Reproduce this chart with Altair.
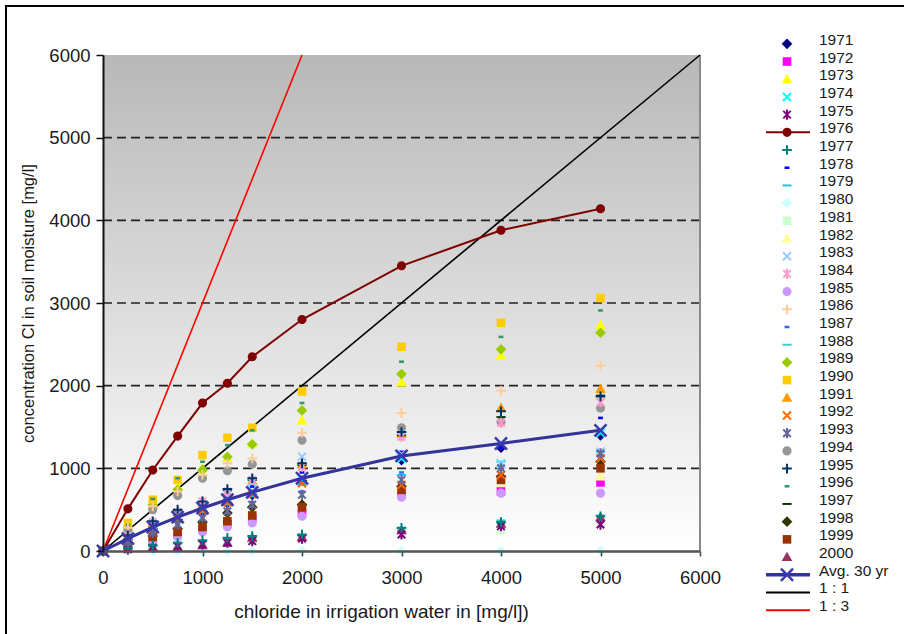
import altair as alt
import pandas as pd

# ---------------- data ----------------
X_VALUES = [0, 250, 500, 750, 1000, 1250, 1500, 2000, 3000, 4000, 5000]

Y1971 = [0, 140, 270, 380, 480, 580, 680, 850, 1100, 1250, 1400]
Y1972 = [0, 60, 130, 200, 260, 330, 390, 460, 690, 720, 830]
Y1973 = [0, 290, 560, 770, 1000, 1130, 1300, 1580, 2040, 2370, 2730]
Y1974 = [0, 150, 300, 410, 510, 620, 720, 870, 1120, 1060, 1430]
Y1975 = [0, 20, 40, 60, 80, 100, 120, 150, 200, 300, 320]
Y1976 = [0, 510, 980, 1390, 1790, 2030, 2350, 2800, 3450, 3880, 4140]
Y1977 = [0, 40, 70, 100, 130, 160, 180, 200, 280, 350, 420]
Y1978 = [0, 170, 320, 440, 560, 660, 780, 950, 1200, 1250, 1610]
Y1979 = [0, 130, 270, 370, 470, 560, 660, 800, 920, 1080, 1200]
Y1980 = [0, 0, 0, 0, 0, 0, 0, 0, 0, 0, 0]
Y1981 = [0, 20, 40, 60, 80, 100, 120, 140, 210, 250, 330]
Y1982 = [0, 100, 200, 280, 350, 430, 500, 600, 760, 830, 900]
Y1983 = [0, 160, 310, 430, 550, 680, 830, 1140, 1170, 1050, 1200]
Y1984 = [0, 180, 350, 470, 600, 720, 860, 1020, 1380, 1550, 1800]
Y1985 = [0, 50, 110, 170, 230, 290, 340, 420, 650, 700, 700]
Y1986 = [0, 280, 540, 720, 920, 1060, 1120, 1430, 1670, 1940, 2240]
Y1987 = [0, 110, 230, 330, 420, 500, 590, 720, 950, 1000, 1100]
Y1988 = [0, 30, 60, 90, 120, 150, 170, 190, 270, 370, 430]
Y1989 = [0, 280, 560, 740, 980, 1140, 1290, 1700, 2140, 2440, 2640]
Y1990 = [0, 340, 620, 860, 1160, 1370, 1490, 1930, 2470, 2760, 3060]
Y1991 = [0, 170, 340, 470, 590, 710, 850, 1050, 1420, 1730, 1960]
Y1992 = [0, 140, 280, 390, 490, 590, 690, 820, 800, 920, 1120]
Y1993 = [0, 110, 220, 320, 400, 480, 560, 680, 860, 1000, 1180]
Y1994 = [0, 250, 500, 670, 880, 970, 1050, 1340, 1490, 1560, 1730]
Y1995 = [0, 190, 360, 500, 600, 750, 880, 1060, 1440, 1690, 1870]
Y1996 = [0, 320, 630, 880, 1080, 1280, 1460, 1790, 2290, 2590, 2910]
Y1997 = [0, 180, 350, 480, 590, 730, 860, 1040, 1400, 1620, 1880]
Y1998 = [0, 90, 180, 270, 350, 460, 530, 560, 780, 900, 1080]
Y1999 = [0, 60, 170, 230, 290, 360, 430, 530, 740, 860, 1000]
Y2000 = [0, 30, 50, 50, 70, 100, 160, 170, 250, 330, 410]

AVG_30 = [0, 150, 290, 410, 520, 620, 710, 880, 1150, 1300, 1460]

LINE_11_X = [0, 6000]
LINE_11_Y = [0, 6000]
LINE_13_X = [0, 2000]
LINE_13_Y = [0, 6000]

YEARS = [str(y) for y in range(1971, 2001)]
SERIES = [Y1971, Y1972, Y1973, Y1974, Y1975, Y1976, Y1977, Y1978, Y1979, Y1980,
          Y1981, Y1982, Y1983, Y1984, Y1985, Y1986, Y1987, Y1988, Y1989, Y1990,
          Y1991, Y1992, Y1993, Y1994, Y1995, Y1996, Y1997, Y1998, Y1999, Y2000]

AXIS_TICKS = [0, 1000, 2000, 3000, 4000, 5000, 6000]
GRID_LEVELS = [1000, 2000, 3000, 4000, 5000]

AVG_LABEL = "Avg. 30 yr"
L11_LABEL = "1 : 1"
L13_LABEL = "1 : 3"

# ---------------- styles ----------------
COLORS = ["#000080", "#FF00FF", "#FFFF00", "#00FFFF", "#800080", "#800000",
          "#008080", "#0000FF", "#00CCFF", "#CCFFFF", "#CCFFCC", "#FFFF99",
          "#99CCFF", "#FF99CC", "#CC99FF", "#FFCC99", "#3366FF", "#33CCCC",
          "#99CC00", "#FFCC00", "#FF9900", "#FF6600", "#666699", "#969696",
          "#003366", "#339966", "#003300", "#333300", "#993300", "#993366"]
KIND_CYCLE = ["diamond", "square", "triangle", "x", "star", "circle", "plus",
              "dash_s", "dash_l"]
KINDS = [KIND_CYCLE[i % 9] for i in range(30)]
PATHS = {
    "diamond": "M0,-1L1,0L0,1L-1,0Z",
    "square": "M-0.8,-0.8H0.8V0.8H-0.8Z",
    "triangle": "M0,-1L1,0.75H-1Z",
    "circle": "M-0.85,0A0.85,0.85 0 1,0 0.85,0A0.85,0.85 0 1,0 -0.85,0Z",
    "dash_s": "M-0.45,-0.24H0.45V0.24H-0.45Z",
    "dash_l": "M-0.85,-0.18H0.85V0.18H-0.85Z",
    "x": "M-0.75,-0.75L0.75,0.75M0.75,-0.75L-0.75,0.75",
    "star": "M-0.7,-0.7L0.7,0.7M0.7,-0.7L-0.7,0.7M0,-0.95V0.95",
    "plus": "M-0.9,0H0.9M0,-0.9V0.9",
}
STROKED = {"x", "star", "plus"}
AVG_COLOR = "#33339A"
FONT = "Liberation Sans"
TEXT_COLOR = "#1a1a1a"
PT_SIZE = 115

W, H = 597, 496

# ---------------- tables ----------------
rows = []
for label, vals, kind in zip(YEARS, SERIES, KINDS):
    for xv, yv in zip(X_VALUES, vals):
        rows.append({"s": label, "x": xv, "y": yv, "k": "stroked" if kind in STROKED else "filled"})
points = pd.DataFrame(rows)
line76 = pd.DataFrame({"x": X_VALUES, "y": Y1976})
avg = pd.DataFrame({"x": X_VALUES, "y": AVG_30})
ref_lines = pd.DataFrame(
    [{"s": L11_LABEL, "x": a, "y": b, "o": i} for i, (a, b) in enumerate(zip(LINE_11_X, LINE_11_Y))]
    + [{"s": L13_LABEL, "x": a, "y": b, "o": i} for i, (a, b) in enumerate(zip(LINE_13_X, LINE_13_Y))]
)
grid = pd.DataFrame({"y": GRID_LEVELS})
bg = pd.DataFrame({"x": [AXIS_TICKS[0]], "x2": [AXIS_TICKS[-1]], "y": [AXIS_TICKS[0]], "y2": [AXIS_TICKS[-1]]})
right_edge = pd.DataFrame({"x": [AXIS_TICKS[-1]]})

LABELS = YEARS + [AVG_LABEL, L11_LABEL, L13_LABEL]
leg_rows = []
for label, kind in zip(YEARS, KINDS):
    leg_rows.append({"label": label, "k": "stroked" if kind in STROKED else "filled",
                     "line": label == "1976", "w": 2})
leg_rows.append({"label": AVG_LABEL, "k": "avg", "line": True, "w": 3.5})
leg_rows.append({"label": L11_LABEL, "k": "none", "line": True, "w": 2})
leg_rows.append({"label": L13_LABEL, "k": "none", "line": True, "w": 2})
legend = pd.DataFrame(leg_rows)

# ---------------- scales / encodings ----------------
xs = alt.Scale(domain=[0, 6000], nice=False, zero=False)
ys = alt.Scale(domain=[0, 6000], nice=False, zero=False)
color_scale = alt.Scale(domain=LABELS, range=COLORS + [AVG_COLOR, "#000000", "#FF0000"])
shape_scale = alt.Scale(domain=YEARS + [AVG_LABEL], range=[PATHS[k] for k in KINDS] + [PATHS["x"]])

x_axis = alt.Axis(values=AXIS_TICKS, format="d", title="chloride in irrigation water in [mg/l])",
                  grid=False, labelFlush=False, domainColor="#555555", domainWidth=2.5,
                  tickColor="#444444", tickSize=5, tickWidth=1.5, labelPadding=12,
                  labelFontSize=18.5, labelFont=FONT, labelColor=TEXT_COLOR,
                  titleFont=FONT, titleFontSize=19, titleFontWeight="normal",
                  titleColor=TEXT_COLOR, titleX=278, titleY=60, titleBaseline="middle",
                  zindex=1)
y_axis = alt.Axis(values=AXIS_TICKS, format="d", title="concentration Cl in soil moisture [mg/l]",
                  grid=False, labelFlush=False, domainColor="#111111", domainWidth=2,
                  tickColor="#111111", tickSize=7, tickWidth=1.5, labelPadding=6,
                  labelFontSize=18.5, labelFont=FONT, labelColor=TEXT_COLOR,
                  titleFont=FONT, titleFontSize=16.5, titleFontWeight="normal",
                  titleColor=TEXT_COLOR, titleX=-75, titleY=H / 2, titleAngle=-90,
                  titleBaseline="middle", titleAlign="center", zindex=1)


def ex():
    return alt.X("x:Q", scale=xs, axis=x_axis)


def ey():
    return alt.Y("y:Q", scale=ys, axis=y_axis)


background = alt.Chart(bg).mark_rect(
    fill=alt.Gradient(gradient="linear", x1=0, x2=0, y1=0, y2=1,
                      stops=[alt.GradientStop(offset=0, color="#b8b8b8"),
                             alt.GradientStop(offset=1, color="#ffffff")])
).encode(x=ex(), x2="x2:Q", y=ey(), y2="y2:Q")

grid_rules = alt.Chart(grid).mark_rule(color="#222222", strokeWidth=1.6, strokeDash=[9, 5]).encode(
    y=ey(), x=alt.value(0), x2=alt.value(W))

edge = alt.Chart(right_edge).mark_rule(color="#8a8a8a", strokeWidth=2).encode(
    x=ex(), y=alt.value(0), y2=alt.value(H))

refs = alt.Chart(ref_lines).mark_line(strokeWidth=1.6).encode(
    x=ex(), y=ey(), order="o:Q",
    color=alt.Color("s:N", scale=color_scale, legend=None))

l76 = alt.Chart(line76).mark_line(color="#800000", strokeWidth=2).encode(x=ex(), y=ey())

filled_pts = alt.Chart(points).transform_filter(alt.datum.k == "filled").mark_point(
    filled=True, size=PT_SIZE, opacity=1).encode(
    x=ex(), y=ey(),
    color=alt.Color("s:N", scale=color_scale, legend=None),
    shape=alt.Shape("s:N", scale=shape_scale, legend=None))

stroked_pts = alt.Chart(points).transform_filter(alt.datum.k == "stroked").mark_point(
    filled=False, size=PT_SIZE, opacity=1, strokeWidth=2).encode(
    x=ex(), y=ey(),
    color=alt.Color("s:N", scale=color_scale, legend=None),
    shape=alt.Shape("s:N", scale=shape_scale, legend=None))

avg_line = alt.Chart(avg).mark_line(color=AVG_COLOR, strokeWidth=3).encode(x=ex(), y=ey())
avg_pts = alt.Chart(avg).mark_point(shape=PATHS["x"], size=260, filled=False, opacity=1,
                                    strokeWidth=2.5, color="#3a3aae").encode(x=ex(), y=ey())

plot = alt.layer(background, grid_rules, edge, refs, l76, filled_pts, stroked_pts,
                 avg_line, avg_pts)

# ---------------- legend ----------------
ly = alt.Y("label:N", scale=alt.Scale(type="point", domain=LABELS, range=[-20, 564]), axis=None)
LEG_X = 684

leg_lines = alt.Chart(legend).transform_filter(alt.datum.line).mark_rule().encode(
    y=ly, x=alt.value(LEG_X - 21), x2=alt.value(LEG_X + 23),
    color=alt.Color("label:N", scale=color_scale, legend=None),
    strokeWidth=alt.StrokeWidth("w:Q", scale=None))
leg_filled = alt.Chart(legend).transform_filter(alt.datum.k == "filled").mark_point(
    filled=True, size=PT_SIZE, opacity=1).encode(
    y=ly, x=alt.value(LEG_X),
    color=alt.Color("label:N", scale=color_scale, legend=None),
    shape=alt.Shape("label:N", scale=shape_scale, legend=None))
leg_stroked = alt.Chart(legend).transform_filter(alt.datum.k == "stroked").mark_point(
    filled=False, size=PT_SIZE, opacity=1, strokeWidth=2).encode(
    y=ly, x=alt.value(LEG_X),
    color=alt.Color("label:N", scale=color_scale, legend=None),
    shape=alt.Shape("label:N", scale=shape_scale, legend=None))
leg_avg = alt.Chart(legend).transform_filter(alt.datum.k == "avg").mark_point(
    shape=PATHS["x"], size=260, filled=False, opacity=1, strokeWidth=2.5,
    color="#3a3aae").encode(y=ly, x=alt.value(LEG_X))
leg_text = alt.Chart(legend).mark_text(align="left", baseline="middle", dy=-4,
                                       font=FONT, fontSize=15.5, color=TEXT_COLOR).encode(
    y=ly, x=alt.value(LEG_X + 32), text="label:N")

frame = alt.Chart(pd.DataFrame({"a": [0]})).mark_rect(
    fillOpacity=0, stroke="#000000", strokeWidth=2).encode(
    x=alt.value(-97), x2=alt.value(W + 400), y=alt.value(-49), y2=alt.value(H + 200))

chart = alt.layer(plot, leg_lines, leg_filled, leg_stroked, leg_avg, leg_text, frame).resolve_scale(
    y="independent"
).properties(
    width=W, height=H,
    autosize=alt.AutoSizeParams(type="none"),
    padding={"left": 103, "top": 55, "right": 204, "bottom": 83},
    background="#ffffff",
).configure_view(stroke=None)

chart.save("out.html", embed_options={"renderer": "svg", "actions": False})
